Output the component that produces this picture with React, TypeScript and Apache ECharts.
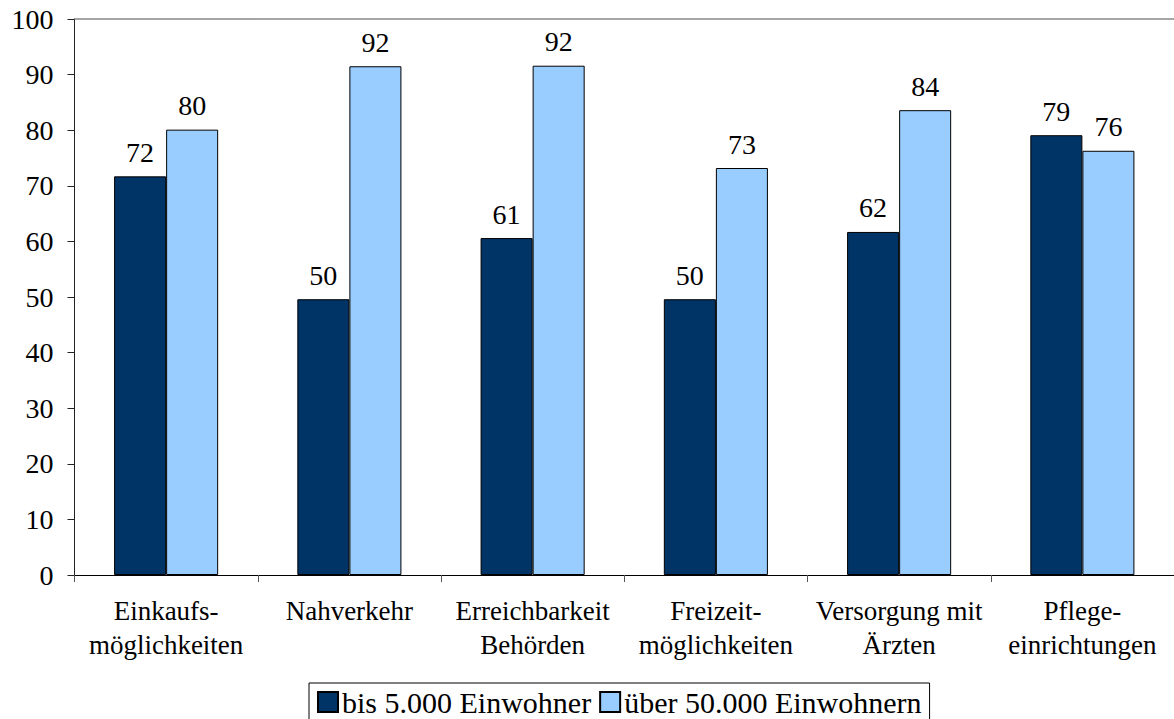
import React, { useEffect, useRef } from "react";
import * as echarts from "echarts";

const categories = [
  "Einkaufs-\nmöglichkeiten",
  "Nahverkehr",
  "Erreichbarkeit\nBehörden",
  "Freizeit-\nmöglichkeiten",
  "Versorgung mit\nÄrzten",
  "Pflege-\neinrichtungen",
];
const smallTowns = [71.7, 49.6, 60.6, 49.6, 61.7, 79.1];
const bigTowns = [80.1, 91.5, 91.6, 73.2, 83.6, 76.3];
const seriesNames = ["bis 5.000 Einwohner", "über 50.000 Einwohnern"];

const FONT = "Liberation Serif";

export default function App() {
  const ref = useRef<HTMLDivElement>(null);
  useEffect(() => {
    if (!ref.current) return;
    const chart = echarts.init(ref.current, undefined, { renderer: "svg" });
    const label = {
      show: true,
      position: "top",
      distance: 10,
      fontFamily: FONT,
      fontSize: 28,
      color: "#000",
      formatter: (p: any) => String(Math.round(p.value)),
    };
    chart.setOption({
      animation: false,
      textStyle: { fontFamily: FONT },
      grid: { left: 74.5, right: 0, top: 19, bottom: 144, containLabel: false },
      legend: {
        left: 309,
        top: 683,
        itemWidth: 20,
        itemHeight: 20,
        itemGap: 8,
        padding: [4, 8, 12, 8],
        borderColor: "#000",
        borderWidth: 1,
        icon: "rect",
        textStyle: {
          fontFamily: FONT,
          fontSize: 30,
          lineHeight: 26,
          color: "#000",
          padding: [0, 0, 0, -1],
        },
        data: seriesNames,
      },
      xAxis: [
        {
          type: "category",
          data: categories,
          axisLine: { show: true, lineStyle: { color: "#000", width: 1 } },
          axisTick: { show: true, length: 7, lineStyle: { color: "#555" } },
          axisLabel: {
            fontFamily: FONT,
            fontSize: 27,
            color: "#000",
            margin: 19,
            lineHeight: 34,
            interval: 0,
          },
        },
        {
          type: "category",
          position: "top",
          data: categories,
          axisLine: { show: true, lineStyle: { color: "#888", width: 1.5 } },
          axisTick: { show: false },
          axisLabel: { show: false },
        },
      ],
      yAxis: {
        type: "value",
        min: 0,
        max: 100,
        interval: 10,
        axisLine: { show: true, lineStyle: { color: "#222", width: 1 } },
        axisTick: { show: true, length: 7, lineStyle: { color: "#222" } },
        splitLine: { show: false },
        axisLabel: { fontFamily: FONT, fontSize: 28, color: "#000", margin: 21 },
      },
      series: [
        {
          name: seriesNames[0],
          type: "bar",
          data: smallTowns,
          barWidth: "28.4%",
          barGap: "0%",
          itemStyle: { color: "#003366", borderColor: "#000", borderWidth: 1 },
          label,
        },
        {
          name: seriesNames[1],
          type: "bar",
          data: bigTowns,
          barWidth: "28.4%",
          barGap: "0%",
          itemStyle: { color: "#99CCFF", borderColor: "#000", borderWidth: 1 },
          label,
        },
      ],
    });
    return () => chart.dispose();
  }, []);
  return (
    <div
      ref={ref}
      style={{ position: "fixed", left: 0, top: 0, width: 1174, height: 719, background: "#fff" }}
    />
  );
}
